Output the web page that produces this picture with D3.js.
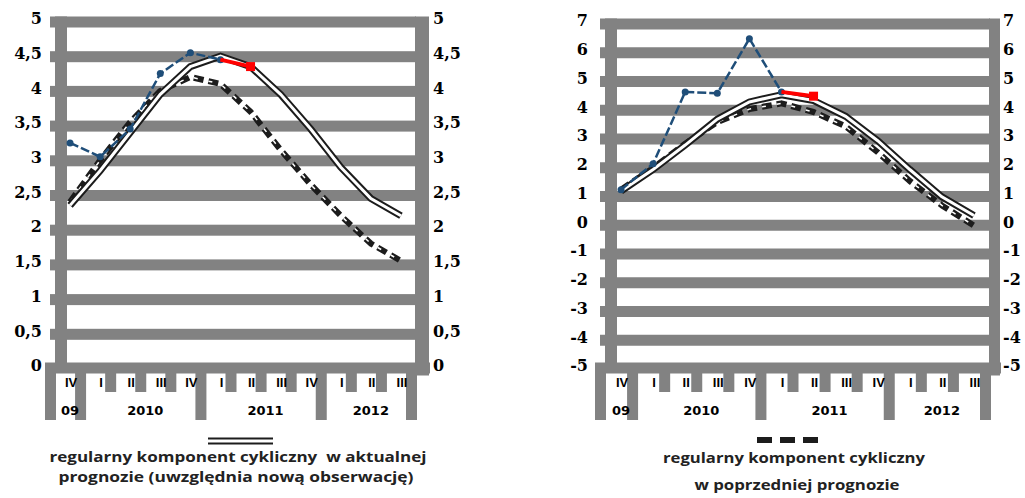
<!DOCTYPE html>
<html>
<head>
<meta charset="utf-8">
<script src="https://cdn.jsdelivr.net/npm/d3@7"></script>
<style>
  body { margin: 0; background: #fff; }
  svg { display: block; }
  .legend text { white-space: pre; }
</style>
</head>
<body>
<div id="chart"></div>
<script>
// categories
const quarters = ["IV", "I", "II", "III", "IV", "I", "II", "III", "IV", "I", "II", "III"];
const yearLabels = ["09", "2010", "2011", "2012"];
const yearSpans = [[0, 0], [1, 4], [5, 8], [9, 11]];

// left panel
const leftTicks = [0, 0.5, 1, 1.5, 2, 2.5, 3, 3.5, 4, 4.5, 5];
const leftObserved = [3.2, 3.0, 3.4, 4.2, 4.5, 4.4];
const leftNewObs = [4.4, 4.3];
const leftCurrent = [2.3, 2.8, 3.35, 3.9, 4.3, 4.45, 4.3, 3.9, 3.4, 2.85, 2.4, 2.15];
const leftPrevious = [2.35, 2.95, 3.5, 3.95, 4.15, 4.05, 3.65, 3.1, 2.6, 2.15, 1.75, 1.5];

// right panel
const rightTicks = [-5, -4, -3, -2, -1, 0, 1, 2, 3, 4, 5, 6, 7];
const rightObserved = [1.1, 2.0, 4.5, 4.45, 6.35, 4.5];
const rightNewObs = [4.5, 4.35];
const rightCurrent = [1.05, 1.8, 2.65, 3.55, 4.15, 4.4, 4.2, 3.65, 2.8, 1.8, 0.85, 0.2];
const rightPrevious = [1.1, 1.85, 2.7, 3.45, 3.9, 4.1, 3.8, 3.3, 2.4, 1.4, 0.55, -0.15];

const GRAY = "#828282", BLUE = "#1f4e79", RED = "#ff0000", DARK = "#1c1c1c";

const svg = d3.select("#chart").append("svg")
  .attr("width", 1025)
  .attr("height", 498);

const fmt = d => String(d).replace(".", ",");

function drawPanel(p) {
  const g = svg.append("g");
  const x = d3.scaleBand().domain(d3.range(quarters.length)).range([p.x0, p.x1]);
  const y = d3.scaleLinear().domain(p.domain).range(p.yRange);
  const cx = i => x(i) + x.bandwidth() / 2;
  const bounds = d3.range(quarters.length).map(i => x(i)).concat([p.x1]);
  const yMin = p.domain[0], yMax = p.domain[1];

  // thick gray gridlines
  g.append("g").selectAll("rect")
    .data(p.ticks.filter(t => t !== yMin))
    .join("rect")
    .attr("x", p.x0 - 5)
    .attr("y", d => y(d) - 1.5)
    .attr("width", p.x1 - p.x0 + 5)
    .attr("height", 11)
    .attr("fill", GRAY);

  // vertical frame bars
  g.append("rect").attr("x", p.x0).attr("y", y(yMax) - 1.5)
    .attr("width", 12).attr("height", y(yMin) - y(yMax) + 8).attr("fill", GRAY);
  g.append("rect").attr("x", p.x1 - 1).attr("y", y(yMax) - 1.5)
    .attr("width", p.rightBarW).attr("height", y(yMin) - y(yMax) + 12).attr("fill", GRAY);

  // bottom band
  g.append("rect").attr("x", p.x0 - 10).attr("y", y(yMin) - 2.5)
    .attr("width", p.x1 - p.x0 + 10 + p.rightBarW).attr("height", 11).attr("fill", GRAY);

  // category tick bars
  const yearBounds = new Set(yearSpans.map(s => s[0]).concat([quarters.length]));
  g.append("g").selectAll("rect")
    .data(bounds)
    .join("rect")
    .attr("x", d => d - 10)
    .attr("y", y(yMin) + 8)
    .attr("width", 11)
    .attr("height", (d, i) => yearBounds.has(i) ? 47 : 19)
    .attr("fill", GRAY);

  g.append("g").selectAll("text")
    .data(quarters)
    .join("text")
    .attr("x", (d, i) => cx(i) + 1)
    .attr("y", 387)
    .attr("text-anchor", "middle")
    .style("font", "bold 13px 'Liberation Sans', Arial, sans-serif")
    .text(d => d);

  g.append("g").selectAll("text")
    .data(yearLabels)
    .join("text")
    .attr("x", (d, i) => (cx(yearSpans[i][0]) + cx(yearSpans[i][1])) / 2)
    .attr("y", 415)
    .attr("text-anchor", "middle")
    .style("font", "bold 13px 'DejaVu Sans', sans-serif")
    .text(d => d);

  // y axes (labels only)
  const axL = g.append("g").attr("transform", `translate(${p.x0},0)`)
    .call(d3.axisLeft(y).tickValues(p.ticks).tickFormat(fmt).tickSize(0).tickPadding(p.leftPad));
  const axR = g.append("g").attr("transform", `translate(${p.x1},0)`)
    .call(d3.axisRight(y).tickValues(p.ticks).tickFormat(fmt).tickSize(0).tickPadding(p.rightPad));
  [axL, axR].forEach(ax => {
    ax.select(".domain").remove();
    ax.selectAll("text")
      .attr("dy", "0.36em")
      .style("font-family", "'DejaVu Serif', serif")
      .style("font-weight", "bold")
      .style("font-size", "16px")
      .attr("fill", "#000");
  });

  const line = d3.line().x(d => cx(d.i)).y(d => y(d.v));
  const pts = (arr, off) => arr.map((v, k) => ({ i: k + off, v }));

  // previous forecast: heavy dashed
  g.append("path").attr("d", line(pts(p.previous, 0)))
    .attr("fill", "none").attr("stroke", DARK).attr("stroke-width", 6)
    .attr("stroke-dasharray", "10,5").attr("stroke-linejoin", "round");
  g.append("path").attr("d", line(pts(p.previous, 0)))
    .attr("fill", "none").attr("stroke", "#fff").attr("stroke-width", 1.5)
    .attr("stroke-dasharray", "4,11");

  // current forecast: double line
  g.append("path").attr("d", line(pts(p.current, 0)))
    .attr("fill", "none").attr("stroke", DARK).attr("stroke-width", 7)
    .attr("stroke-linejoin", "miter");
  g.append("path").attr("d", line(pts(p.current, 0)))
    .attr("fill", "none").attr("stroke", "#fff").attr("stroke-width", 3)
    .attr("stroke-linejoin", "miter");

  // observations
  g.append("path").attr("d", line(pts(p.observed, 0)))
    .attr("fill", "none").attr("stroke", BLUE).attr("stroke-width", 2.5)
    .attr("stroke-dasharray", "9,3");
  g.append("g").selectAll("circle")
    .data(pts(p.observed, 0))
    .join("circle")
    .attr("cx", d => cx(d.i)).attr("cy", d => y(d.v)).attr("r", 3.5)
    .attr("fill", BLUE);

  const newPts = pts(p.newObs, p.observed.length - 1);
  g.append("path").attr("d", line(newPts))
    .attr("fill", "none").attr("stroke", RED).attr("stroke-width", 4);
  const last = newPts[newPts.length - 1];
  g.append("rect").attr("x", cx(last.i) - 4.5).attr("y", y(last.v) - 4.5)
    .attr("width", 9).attr("height", 9).attr("fill", RED);
}

drawPanel({
  x0: 55, x1: 416, domain: [0, 5], yRange: [365, 18], ticks: leftTicks,
  leftPad: 13, rightPad: 17, rightBarW: 14,
  observed: leftObserved, newObs: leftNewObs, current: leftCurrent, previous: leftPrevious
});
drawPanel({
  x0: 605, x1: 990, domain: [-5, 7], yRange: [365, 20], ticks: rightTicks,
  leftPad: 17, rightPad: 13, rightBarW: 11,
  observed: rightObserved, newObs: rightNewObs, current: rightCurrent, previous: rightPrevious
});

// legends
const legendFont = "bold 15px 'Open Sans', sans-serif";
const lg = svg.append("g").attr("class", "legend");

lg.append("line").attr("x1", 208).attr("x2", 273).attr("y1", 441).attr("y2", 441)
  .attr("stroke", DARK).attr("stroke-width", 7);
lg.append("line").attr("x1", 208).attr("x2", 273).attr("y1", 441).attr("y2", 441)
  .attr("stroke", "#fff").attr("stroke-width", 3);

lg.append("line").attr("x1", 757).attr("x2", 820).attr("y1", 440).attr("y2", 440)
  .attr("stroke", DARK).attr("stroke-width", 6).attr("stroke-dasharray", "15,8");

const legendLines = [
  { t: "regularny komponent cykliczny  w aktualnej", x: 238, y: 462, w: 377 },
  { t: "prognozie (uwzględnia nową obserwację)", x: 236, y: 482, w: 355 },
  { t: "regularny komponent cykliczny", x: 794, y: 463, w: 262 },
  { t: "w poprzedniej prognozie", x: 797, y: 490, w: 205 }
];
lg.selectAll("text.l")
  .data(legendLines)
  .join("text")
  .attr("class", "l")
  .attr("x", d => d.x)
  .attr("y", d => d.y)
  .attr("text-anchor", "middle")
  .attr("textLength", d => d.w)
  .attr("lengthAdjust", "spacingAndGlyphs")
  .style("font", legendFont)
  .attr("fill", "#222")
  .text(d => d.t);
</script>
</body>
</html>
